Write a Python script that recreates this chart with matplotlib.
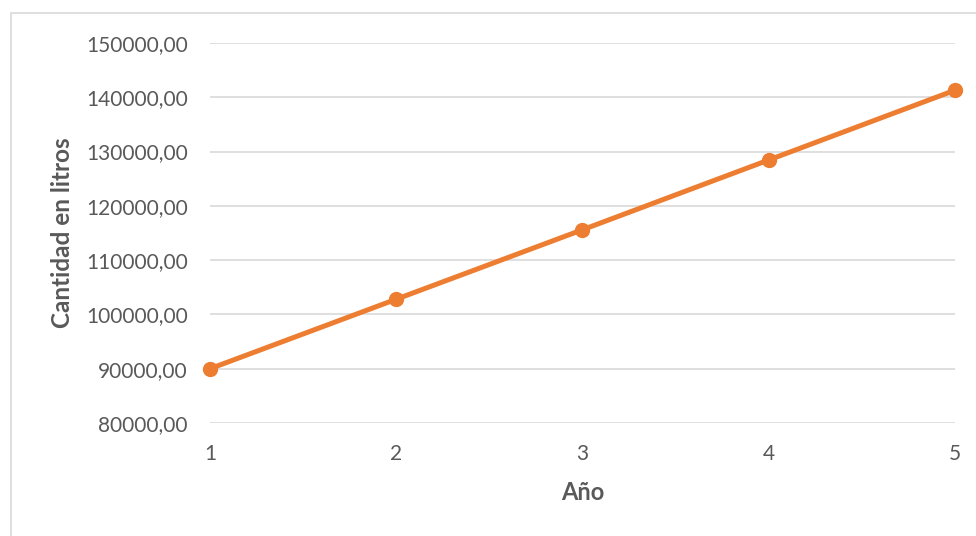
import matplotlib.pyplot as plt
from matplotlib.patches import Rectangle
from matplotlib.ticker import FuncFormatter

# consumo anual en litros
anios = [1, 2, 3, 4, 5]
litros = [90000, 102800, 115600, 128450, 141300]
y_ticks = [80000, 90000, 100000, 110000, 120000, 130000, 140000, 150000]

plt.rcParams['font.family'] = ['Lato', 'DejaVu Sans']
texto = '#595959'

fig = plt.figure(figsize=(9.76, 5.36), dpi=100)
W, H = 976, 536

# marco del gráfico
fig.patches.append(Rectangle((11 / W, -0.1), 1.2, 1 - 13 / H + 0.1,
                             transform=fig.transFigure, fill=False,
                             edgecolor='#D9D9D9', linewidth=1.2))

ax = fig.add_axes([210 / W, 1 - 423 / H, (955 - 210) / W, (423 - 43) / H])
ax.plot(anios, litros, color='#ED7D31', linewidth=3.6, marker='o',
        markersize=10, solid_capstyle='round', zorder=3, clip_on=False)

ax.set_xlim(1, 5)
ax.set_ylim(80000, 150000)
ax.set_xticks(anios)
ax.set_yticks(y_ticks)
ax.yaxis.set_major_formatter(FuncFormatter(lambda v, p: f'{v:.2f}'.replace('.', ',')))
ax.grid(axis='y', color='#D9D9D9', linewidth=1.2)
ax.set_axisbelow(True)
for s in ax.spines.values():
    s.set_visible(False)
ax.tick_params(length=0, labelsize=15, colors=texto)
ax.tick_params(axis='x', pad=15)
ax.tick_params(axis='y', pad=16)

ax.set_xlabel('Año', fontsize=17, fontweight='bold', color=texto, labelpad=12)
ax.set_ylabel('Cantidad en litros', fontsize=17.5, fontweight='bold', color=texto, labelpad=9)

fig.savefig('out.png', dpi=100)
